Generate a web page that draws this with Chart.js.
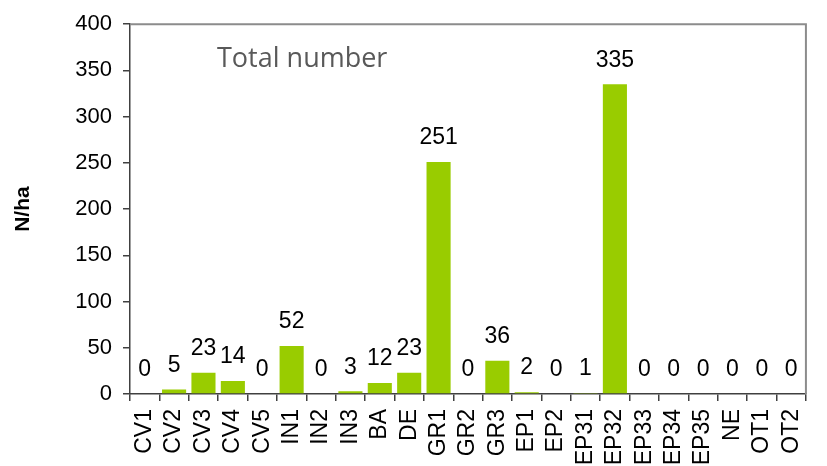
<!DOCTYPE html>
<html>
<head>
<meta charset="utf-8">
<script src="https://cdn.jsdelivr.net/npm/chart.js@4/dist/chart.umd.min.js"></script>
<style>
html,body{margin:0;padding:0;background:#fff;}
#wrap{width:827px;height:466px;position:relative;}
</style>
</head>
<body>
<div id="wrap"><canvas id="c" width="827" height="466"></canvas></div>
<script>
const categories = ["CV1","CV2","CV3","CV4","CV5","IN1","IN2","IN3","BA","DE","GR1","GR2","GR3","EP1","EP2","EP31","EP32","EP33","EP34","EP35","NE","OT1","OT2"];
const totalNumber = [0,5,23,14,0,52,0,3,12,23,251,0,36,2,0,1,335,0,0,0,0,0,0];
const yTicks = [0,50,100,150,200,250,300,350,400];
const annotationText = "Total number";
const yTitle = "N/ha";

const labelPlugin = {
  id: 'labels',
  afterDatasetsDraw(chart) {
    const ctx = chart.ctx;
    const meta = chart.getDatasetMeta(0);
    ctx.save();
    ctx.font = '23px "Liberation Sans", Arial, sans-serif';
    ctx.fillStyle = '#000';
    ctx.textAlign = 'center';
    ctx.textBaseline = 'middle';
    meta.data.forEach((bar, i) => {
      ctx.fillText(String(totalNumber[i]), bar.x, bar.y - 24);
    });
    const a = chart.chartArea;
    ctx.font = '27px "Open Sans", sans-serif';
    ctx.fillStyle = '#595959';
    ctx.textAlign = 'left';
    ctx.fillText(annotationText, a.left + 87, a.top + 35);
    ctx.strokeStyle = '#8c8c8c';
    ctx.lineWidth = 2;
    ctx.beginPath();
    ctx.moveTo(a.left, a.top);
    ctx.lineTo(a.right, a.top);
    ctx.lineTo(a.right, a.bottom);
    ctx.stroke();
    ctx.restore();
  }
};

new Chart(document.getElementById('c'), {
  type: 'bar',
  data: {
    labels: categories,
    datasets: [{
      data: totalNumber,
      backgroundColor: '#99cc00',
      borderWidth: 0,
      barPercentage: 0.82,
      categoryPercentage: 1.0
    }]
  },
  options: {
    responsive: false,
    animation: false,
    layout: { padding: { top: 18, right: 8, left: 0, bottom: 0 } },
    plugins: { legend: { display: false }, tooltip: { enabled: false } },
    scales: {
      x: {
        grid: { offset: true, drawOnChartArea: false, drawTicks: true, tickLength: 7, color: '#404040', lineWidth: 1.5 },
        border: { display: true, color: '#404040', width: 1.5 },
        ticks: { minRotation: 90, maxRotation: 90, autoSkip: false, padding: 8, color: '#000',
          font: { family: '"Liberation Sans", Arial, sans-serif', size: 23 } },
        afterFit(scale) { scale.height = 72; }
      },
      y: {
        min: 0, max: 400,
        afterBuildTicks(scale) { scale.ticks = yTicks.map(v => ({ value: v })); },
        grid: { drawOnChartArea: false, drawTicks: true, tickLength: 7, color: '#404040', lineWidth: 1.5 },
        border: { display: true, color: '#404040', width: 1.5 },
        ticks: { padding: 11, color: '#000',
          font: { family: '"Liberation Sans", Arial, sans-serif', size: 22 } },
        title: { display: true, text: yTitle, color: '#000', padding: { top: 11, bottom: 0 },
          font: { family: '"Liberation Sans", Arial, sans-serif', size: 21, weight: 'bold' } },
        afterFit(scale) { scale.width = 130; }
      }
    }
  },
  plugins: [labelPlugin]
});
</script>
</body>
</html>
